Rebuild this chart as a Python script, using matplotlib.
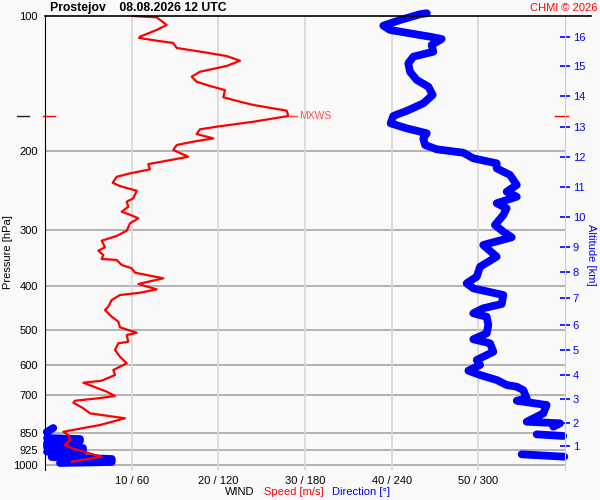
import numpy as np
import matplotlib
matplotlib.use("Agg")
import matplotlib.pyplot as plt
import matplotlib.ticker as mticker
import matplotlib.transforms as mtransforms
from matplotlib.lines import Line2D

plt.rcParams['font.family'] = ['Liberation Sans', 'DejaVu Sans']

# wind speed profile (m/s) vs pressure (hPa)
speed_ms = [10.15, 12.89, 14.04, 12.89, 10.96, 10.85, 12.89, 14.77, 15.2, 18.66,
            20.96, 22.5, 20.96, 17.88, 16.93, 17.5, 19.04, 20.77, 20.57, 22.5,
            24.03, 27.89, 28.07, 24.03, 19.81, 17.88, 17.5, 19.42, 17.11, 15.2,
            14.8, 16.53, 14.04, 11.92, 12.11, 9.81, 8.27, 7.81, 8.65, 10.58,
            10.19, 9.43, 9.61, 8.85, 9.61, 10.77, 9.81, 9.43, 8.27, 6.54,
            6.92, 6.15, 6.73, 6.54, 8.27, 8.85, 10.0, 10.38, 13.65, 10.77,
            12.89, 10.96, 8.65, 7.7, 7.3, 6.92, 7.7, 8.46, 8.65, 10.58,
            9.43, 9.61, 8.46, 8.08, 8.65, 9.43, 7.88, 8.08, 6.54, 4.42,
            5.39, 7.12, 8.08, 6.15, 3.46, 3.27, 4.42, 5.19, 9.23, 6.35,
            4.23, 2.11, 2.69, 2.88, 2.31, 3.08, 3.84, 5.77, 6.54, 4.23, 3.08]
speed_p = [100.0, 100.7, 104.7, 107.4, 111.2, 111.9, 113.5, 114.8, 117.8, 120.7,
           122.8, 125.8, 129.2, 133.1, 136.5, 140.1, 143.2, 146.2, 151.7, 155.2,
           157.8, 162.5, 167.0, 172.0, 176.4, 178.8, 183.2, 187.3, 190.5, 193.8,
           198.8, 205.8, 210.1, 213.7, 219.6, 224.1, 228.1, 235.2, 239.2, 245.0,
           254.7, 259.2, 265.9, 272.9, 276.1, 282.2, 289.5, 300.7, 309.0, 316.5,
           327.4, 333.2, 340.6, 347.6, 349.4, 358.5, 364.6, 373.0, 383.9, 395.3,
           406.2, 413.4, 418.2, 429.1, 444.0, 451.7, 467.5, 479.6, 493.6, 507.5,
           513.6, 531.5, 535.8, 554.5, 573.9, 593.6, 614.4, 630.4, 649.0, 655.7,
           666.8, 686.6, 702.0, 710.3, 719.2, 726.6, 747.7, 767.3, 787.0, 814.6,
           828.6, 843.3, 857.6, 879.8, 902.7, 918.1, 926.1, 950.0, 958.3, 974.7, 983.3]

# wind direction profile (deg) vs pressure (hPa)
dir_deg = [264.3, 259.6, 245.8, 234.2, 238.8, 252.7, 266.5, 274.6, 267.7, 268.8,
           255.0, 251.5, 252.7, 257.3, 265.4, 268.4, 261.9, 250.4, 241.1, 239.3,
           250.4, 264.3, 261.9, 263.1, 271.2, 289.6, 296.5, 312.7, 312.7, 321.9,
           326.6, 319.6, 326.6, 312.7, 319.6, 317.3, 311.5, 317.3, 323.1, 303.4,
           312.7, 301.2, 298.9, 291.9, 296.5, 317.3, 316.2, 303.4, 296.5, 305.8,
           306.9, 305.8, 296.5, 308.1, 310.4, 298.9, 301.2, 293.1, 301.2, 312.7,
           319.6, 326.6, 331.1, 333.5, 326.6, 347.3, 345.0, 333.5, 356.5, 351.9,
           5.7, 1.2, 340.4, 358.8, 1.4, 24.2, 24.2, 1.4, 1.4, 26.3,
           26.3, 1.4, 330.0, 359.5, 4.6, 46.2, 46.2, 10.4, 355.4]
dir_p = [98.6, 99.1, 102.1, 105.1, 107.4, 109.3, 111.2, 112.5, 116.0, 120.1,
         123.2, 127.5, 133.1, 138.8, 143.7, 149.9, 156.5, 162.7, 167.0, 173.4,
         177.9, 182.5, 187.3, 193.8, 198.1, 201.6, 207.5, 212.9, 218.4, 226.0,
         237.9, 246.2, 252.6, 261.3, 268.1, 277.5, 292.1, 302.2, 311.1, 323.6,
         343.6, 361.8, 380.7, 393.9, 404.2, 418.2, 437.9, 447.7, 459.3, 467.5,
         487.8, 509.0, 524.8, 535.8, 559.4, 583.6, 598.8, 616.6, 630.4, 646.7,
         663.5, 669.4, 680.8, 710.3, 719.2, 735.3, 767.3, 801.0, 807.5, 821.8,
         827.2, 844.6, 854.5, 861.7, 871.0, 875.4, 884.4, 893.6, 912.0, 916.7,
         930.8, 934.1, 946.7, 958.3, 959.8, 969.6, 984.7, 989.7, 994.9]

p_levels = [100, 200, 300, 400, 500, 600, 700, 850, 925, 1000]
x_ticks = [10, 20, 30, 40, 50]
x_labels = ["10 / 60", "20 / 120", "30 / 180", "40 / 240", "50 / 300"]
alt_km = [1, 2, 3, 4, 5, 6, 7, 8, 9, 10, 11, 12, 13, 14, 15, 16]
alt_p = [907, 808, 714, 631, 555, 488, 425, 372, 327, 281, 240, 206, 177, 151, 129, 111.5]

bg = '#fafafa'
fig = plt.figure(figsize=(6, 5), dpi=100, facecolor=bg)
ax = fig.add_axes([45 / 600, 1 - 470 / 500, 520 / 600, 454 / 500])
ax.set_facecolor(bg)
ax.set_yscale('log')
ax.set_ylim(1026, 100)
ax.set_xlim(0, 60)

for p in p_levels[1:]:
    ax.axhline(p, color='#a8a8a8', lw=1.2, zorder=1)
for x in x_ticks:
    ax.axvline(x, color='#d8d8d8', lw=1.2, zorder=1)

# direction drawn on the speed axis (60 m/s == 360 deg), broken where it wraps
d = np.array(dir_deg)
pp = np.array(dir_p, dtype=float)
xs, ys = [d[0] / 6], [pp[0]]
for i in range(1, len(d)):
    if abs(d[i] - d[i - 1]) > 180:
        xs.append(np.nan)
        ys.append(np.nan)
    xs.append(d[i] / 6)
    ys.append(pp[i])
ax.plot(xs, ys, color='#0000ff', lw=5.6, solid_capstyle='round',
        solid_joinstyle='round', clip_on=False, zorder=3)

ax.plot(speed_ms, speed_p, color='#ff0000', lw=1.6, zorder=4, clip_on=False)

# max wind marker
im = int(np.argmax(speed_ms))
sm, pm = speed_ms[im], speed_p[im]
ax.plot([sm + 0.25, sm + 1.0], [pm, pm], color='#ff4040', lw=1, zorder=4)
ax.text(sm + 1.25, pm, 'MXWS', color='#ff5050', fontsize=7.5, va='center', ha='left')
trans = mtransforms.blended_transform_factory(ax.transAxes, ax.transData)
ax.plot([-0.004, 0.02], [pm, pm], transform=trans, color='red', lw=1, clip_on=False)
ax.plot([0.981, 1.006], [pm, pm], transform=trans, color='red', lw=1, clip_on=False)
ax.plot([-0.054, -0.031], [pm, pm], transform=trans, color='#202020', lw=1, clip_on=False)

ax.set_yticks(p_levels)
ax.set_yticklabels([str(p) for p in p_levels])
ax.yaxis.set_minor_locator(mticker.NullLocator())
ax.tick_params(axis='y', length=0, pad=5, labelsize=8)
ax.set_xticks(x_ticks)
ax.set_xticklabels(x_labels)
ax.tick_params(axis='x', length=0, pad=4, labelsize=8)

ax.spines['bottom'].set_visible(False)
ax.spines['top'].set_visible(False)
ax.spines['left'].set_color('black')
ax.spines['right'].set_color('#d0d0d0')

ax2 = ax.twinx()
ax2.set_yscale('log')
ax2.set_ylim(ax.get_ylim())
ax2.set_yticks(alt_p)
ax2.set_yticklabels([str(a) for a in alt_km])
ax2.yaxis.set_minor_locator(mticker.NullLocator())
ax2.tick_params(axis='y', colors='#0000ff', direction='inout', length=7,
                width=1.2, labelsize=8, pad=2)
for s in ['top', 'bottom', 'left']:
    ax2.spines[s].set_visible(False)
ax2.spines['right'].set_color('#d0d0d0')

fig.add_artist(Line2D([45 / 600, 591 / 600], [1 - 16 / 500] * 2, color='black', lw=1.2))

fig.text(50 / 600, 1 - 8 / 500, 'Prostejov    08.08.2026 12 UTC', fontsize=8.8,
         fontweight='bold', va='center', ha='left')
fig.text(597 / 600, 1 - 8 / 500, 'CHMI © 2026', color='red', fontsize=8,
         va='center', ha='right')
fig.text(8 / 600, 1 - 252 / 500, 'Pressure [hPa]', rotation=90, fontsize=8,
         va='center', ha='center')
fig.text(591 / 600, 1 - 255 / 500, 'Altitude [km]', rotation=270, fontsize=8,
         color='#0000ff', va='center', ha='center')
fig.text(225 / 600, 1 - 492 / 500, 'WIND', fontsize=8, va='center', ha='left')
fig.text(264 / 600, 1 - 492 / 500, 'Speed [m/s]', fontsize=8, color='red',
         va='center', ha='left')
fig.text(332 / 600, 1 - 492 / 500, 'Direction [°]', fontsize=8, color='#0000ff',
         va='center', ha='left')

fig.savefig('out.png', dpi=100, facecolor=bg)
